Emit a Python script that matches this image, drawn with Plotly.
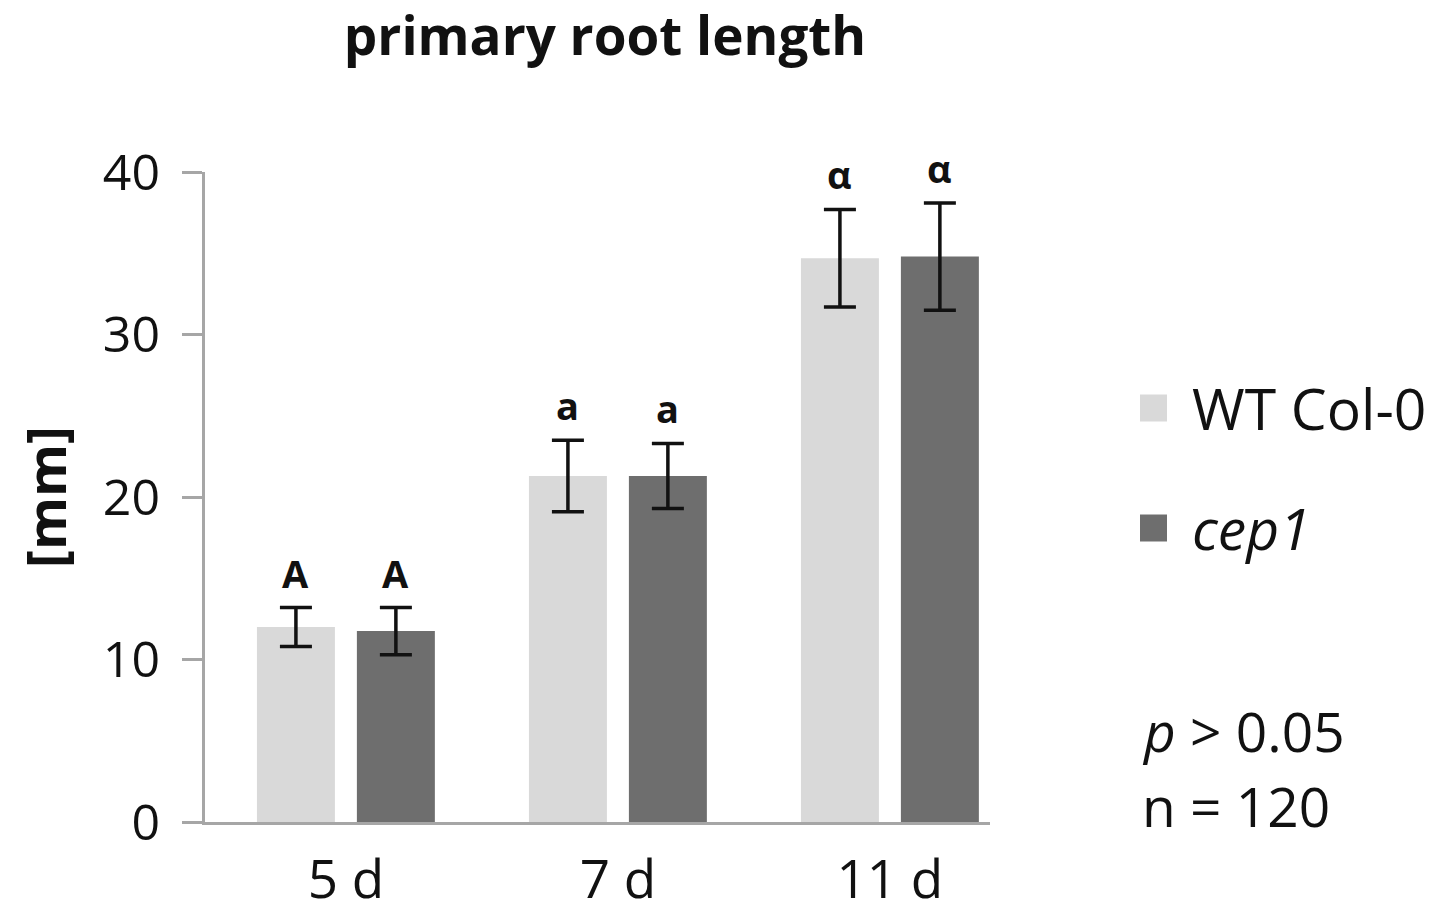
import plotly.graph_objects as go

days = ["5 d", "7 d", "11 d"]
wt_mean = [12.0, 21.3, 34.7]
wt_err = [1.2, 2.2, 3.0]
cep_mean = [11.75, 21.3, 34.8]
cep_err = [1.45, 2.0, 3.3]
wt_letters = ["A", "a", "α"]
cep_letters = ["A", "a", "α"]
yticks = [0, 10, 20, 30, 40]
series_names = ["WT Col-0", "<i>cep1</i>"]
stats_lines = ["<i>p</i> > 0.05", "n = 120"]

FONT = "Open Sans"
LIGHT = "#d9d9d9"
DARK = "#6e6e6e"
AX = "#a6a6a6"
TXT = "#111111"

# target plot area in page pixels (for paper-coordinate helpers)
PL, PR, PT, PB = 205, 990, 172, 822
def px(x):
    return (x - PL) / (PR - PL)
def py(y):
    return (PB - y) / (PB - PT)

fig = go.Figure()
err_style = dict(type="data", thickness=3.5, width=16, color=TXT, visible=True)
fig.add_trace(go.Bar(x=days, y=wt_mean, error_y=dict(array=wt_err, **err_style),
                     marker=dict(color=LIGHT, line=dict(width=0)), name="WT Col-0", showlegend=False))
fig.add_trace(go.Bar(x=days, y=cep_mean, error_y=dict(array=cep_err, **err_style),
                     marker=dict(color=DARK, line=dict(width=0)), name="cep1", showlegend=False))

# significance letters
for i, d in enumerate(days):
    fig.add_annotation(x=d, y=wt_mean[i] + wt_err[i], text=f"<b>{wt_letters[i]}</b>",
                       showarrow=False, yanchor="bottom", xshift=-50, yshift=7,
                       font=dict(family=FONT, size=38, color=TXT))
    fig.add_annotation(x=d, y=cep_mean[i] + cep_err[i], text=f"<b>{cep_letters[i]}</b>",
                       showarrow=False, yanchor="bottom", xshift=50, yshift=7,
                       font=dict(family=FONT, size=38, color=TXT))

# manual legend
legend_colors = [LIGHT, DARK]
legend_y = [408, 528]
for name, col, ly in zip(series_names, legend_colors, legend_y):
    fig.add_shape(type="rect", xref="paper", yref="paper",
                  x0=px(1140), x1=px(1167), y0=py(ly + 13.5), y1=py(ly - 13.5),
                  fillcolor=col, line=dict(width=0))
    fig.add_annotation(xref="paper", yref="paper", x=px(1190), y=py(ly), xanchor="left",
                       yanchor="middle", text=name, showarrow=False,
                       font=dict(family=FONT, size=57, color=TXT))

for txt, ly in zip(stats_lines, [730, 805]):
    fig.add_annotation(xref="paper", yref="paper", x=px(1140), y=py(ly), xanchor="left",
                       yanchor="middle", text=txt, showarrow=False,
                       font=dict(family=FONT, size=55, color=TXT))

fig.update_layout(
    width=1445, height=913,
    margin=dict(l=197, r=463, t=164, b=99, pad=0, autoexpand=False),
    paper_bgcolor="white", plot_bgcolor="white",
    barmode="group", bargap=0.265, bargroupgap=0.22,
    showlegend=False,
    title=dict(text="<b>primary root length</b>", x=597 / 1445, xanchor="center",
               y=1 - 28 / 913, yanchor="middle",
               font=dict(family=FONT, size=53, color=TXT)),
    font=dict(family=FONT, color=TXT),
    xaxis=dict(type="category", range=[-0.518, 2.368], showline=True, linecolor=AX, linewidth=3,
               ticks="", showgrid=False, tickfont=dict(family=FONT, size=53, color=TXT),
               ticklabelstandoff=9, zeroline=False, automargin=False),
    yaxis=dict(range=[0, 40], tickvals=yticks, showline=True, linecolor=AX, linewidth=3,
               ticks="outside", ticklen=20, tickwidth=3, tickcolor=AX, showgrid=False,
               zeroline=False, tickfont=dict(family=FONT, size=50, color=TXT),
               ticklabelstandoff=12, automargin=False,
               title=dict(text="<b>[mm]</b>", standoff=48,
                          font=dict(family=FONT, size=54, color=TXT))),
)

fig.write_html("out.html")
